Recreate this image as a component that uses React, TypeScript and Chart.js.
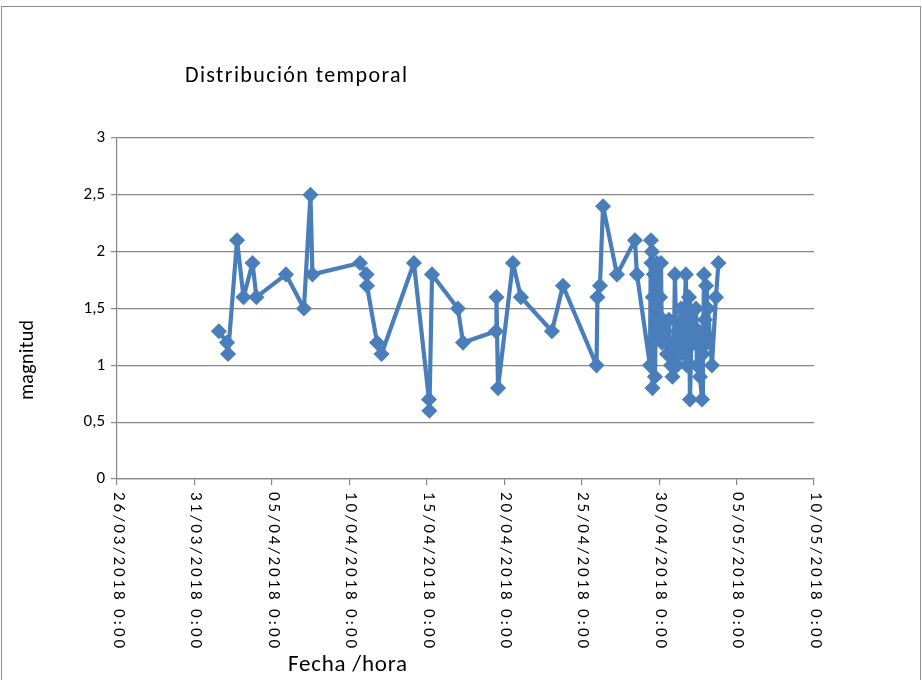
import React, { useEffect, useRef } from 'react';
import { Chart, registerables } from 'chart.js';

Chart.register(...registerables);

// Event time, in days since 26/03/2018 0:00
const eventDays = [
  6.58, 7.1, 7.17, 7.75, 8.17, 8.75, 9.0, 10.91, 12.07, 12.49, 12.62,
  15.69, 16.11, 16.14, 16.79, 17.08, 19.17, 20.14, 20.17, 20.34, 22.01,
  22.34, 24.47, 24.5, 24.6, 25.56, 26.08, 28.08, 28.79, 30.96, 31.02,
  31.18, 31.38, 32.28, 33.44, 33.57,
  34.41, 34.47, 34.51, 34.54, 34.57, 34.6, 34.67, 34.73, 34.8, 34.86,
  34.93, 35.06, 35.12, 35.18, 35.25, 35.38, 35.51, 35.64, 35.77, 35.86,
  35.96, 36.02, 36.15, 36.28, 36.41, 36.47, 36.6, 36.73, 36.79, 36.93,
  36.99, 37.12, 37.25, 37.38, 37.44, 37.57, 37.64, 37.77, 37.83, 37.9,
  37.96, 38.03, 38.09, 38.15, 38.41, 38.67, 38.83,
];

const magnitudes = [
  1.3, 1.2, 1.1, 2.1, 1.6, 1.9, 1.6, 1.8, 1.5, 2.5, 1.8,
  1.9, 1.8, 1.7, 1.2, 1.1, 1.9, 0.7, 0.6, 1.8, 1.5,
  1.2, 1.3, 1.6, 0.8, 1.9, 1.6, 1.3, 1.7, 1.0, 1.6,
  1.7, 2.4, 1.8, 2.1, 1.8,
  1.0, 2.1, 1.9, 2.0, 0.8, 1.6, 1.8, 0.9, 1.5, 1.9,
  1.3, 1.6, 1.9, 1.2, 1.4, 1.3, 1.1, 1.4, 1.0, 0.9,
  1.2, 1.8, 1.0, 1.3, 1.5, 1.1, 1.3, 1.8, 1.0, 1.6,
  0.7, 1.4, 1.2, 1.5, 1.0, 1.3, 0.9, 0.7, 1.1, 1.8,
  1.4, 1.7, 1.2, 1.5, 1.0, 1.6, 1.9,
];

const xTickLabels = [
  '26/03/2018 0:00', '31/03/2018 0:00', '05/04/2018 0:00', '10/04/2018 0:00',
  '15/04/2018 0:00', '20/04/2018 0:00', '25/04/2018 0:00', '30/04/2018 0:00',
  '05/05/2018 0:00', '10/05/2018 0:00',
];

const yTickValues = [0, 0.5, 1, 1.5, 2, 2.5, 3];

const chartTitle = 'Distribución temporal';
const xAxisTitle = 'Fecha /hora';
const yAxisTitle = 'magnitud';

const FONT = "Carlito, Lato, 'Liberation Sans', sans-serif";
const BLUE = '#4A7EBB';
const GRID = '#868686';

function fitText(ctx: CanvasRenderingContext2D, text: string, x: number, y: number, target: number) {
  (ctx as any).letterSpacing = '0px';
  const w = ctx.measureText(text).width;
  const sp = (target - w) / Math.max(1, text.length - 1);
  (ctx as any).letterSpacing = `${sp}px`;
  ctx.fillText(text, x, y);
  (ctx as any).letterSpacing = '0px';
}

const decorPlugin = {
  id: 'decor',
  beforeDraw(chart: any) {
    const { ctx, width, height } = chart;
    ctx.save();
    ctx.fillStyle = '#ffffff';
    ctx.fillRect(0, 0, width, height);
    ctx.strokeStyle = '#8c8c8c';
    ctx.lineWidth = 1;
    ctx.strokeRect(1.5, 6.5, width - 3, height + 20);
    ctx.restore();
  },
  afterDraw(chart: any) {
    const { ctx, chartArea } = chart;
    const xs = chart.scales.x;
    ctx.save();
    ctx.fillStyle = '#000000';
    ctx.textAlign = 'left';
    ctx.textBaseline = 'middle';
    // title
    ctx.font = `22px ${FONT}`;
    fitText(ctx, chartTitle, 185, 76, 222);
    // x axis title
    ctx.font = `23px ${FONT}`;
    fitText(ctx, xAxisTitle, 288, 665, 119);
    // y axis title
    ctx.save();
    ctx.translate(28, 400);
    ctx.rotate(-Math.PI / 2);
    ctx.font = `20px ${FONT}`;
    fitText(ctx, yAxisTitle, 0, 0, 80);
    ctx.restore();
    // x tick labels, rotated clockwise
    ctx.font = `17px ${FONT}`;
    xs.ticks.forEach((t: any, i: number) => {
      const label = xTickLabels[i];
      if (!label) return;
      const x = xs.getPixelForValue(t.value);
      ctx.save();
      ctx.translate(x + 1, chartArea.bottom + 13);
      ctx.rotate(Math.PI / 2);
      fitText(ctx, label, 0, 0, 156);
      ctx.restore();
    });
    ctx.restore();
  },
};

export default function App() {
  const ref = useRef<HTMLCanvasElement | null>(null);
  useEffect(() => {
    document.body.style.margin = '0';
    if (!ref.current) return;
    const chart = new Chart(ref.current, {
      type: 'line',
      data: {
        datasets: [
          {
            data: eventDays.map((d, i) => ({ x: d, y: magnitudes[i] })),
            borderColor: BLUE,
            backgroundColor: BLUE,
            borderWidth: 4.2,
            borderJoinStyle: 'round',
            borderCapStyle: 'round',
            pointStyle: 'rectRot',
            pointRadius: 7,
            pointBorderWidth: 1.5,
            pointBackgroundColor: BLUE,
            pointBorderColor: BLUE,
            tension: 0,
            fill: false,
          },
        ],
      },
      options: {
        responsive: false,
        animation: false,
        layout: { padding: { left: 0, top: 138, right: 108, bottom: 0 } },
        plugins: {
          legend: { display: false },
          title: { display: false },
          tooltip: { enabled: false },
        },
        scales: {
          x: {
            type: 'linear',
            min: 0,
            max: 45,
            ticks: { stepSize: 5, display: false },
            grid: { drawOnChartArea: false, drawTicks: true, tickLength: 6, color: GRID, lineWidth: 1.2 },
            border: { display: true, color: GRID, width: 1.2 },
            afterFit: (s: any) => { s.height = 201; },
          },
          y: {
            type: 'linear',
            min: 0,
            max: 3,
            afterBuildTicks: (s: any) => { s.ticks = yTickValues.map((v) => ({ value: v })); },
            ticks: {
              stepSize: 0.5,
              padding: 6,
              color: '#000000',
              font: { family: FONT, size: 17 },
              callback: (v: any) => String(v).replace('.', ','),
            },
            grid: { color: GRID, tickLength: 6, lineWidth: 1.2 },
            border: { display: true, color: GRID, width: 1.2 },
            afterFit: (s: any) => { s.width = 117; },
          },
        },
      },
      plugins: [decorPlugin],
    });
    return () => chart.destroy();
  }, []);
  return (
    <div style={{ width: 922, height: 680 }}>
      <canvas ref={ref} width={922} height={680} style={{ display: 'block' }} />
    </div>
  );
}
